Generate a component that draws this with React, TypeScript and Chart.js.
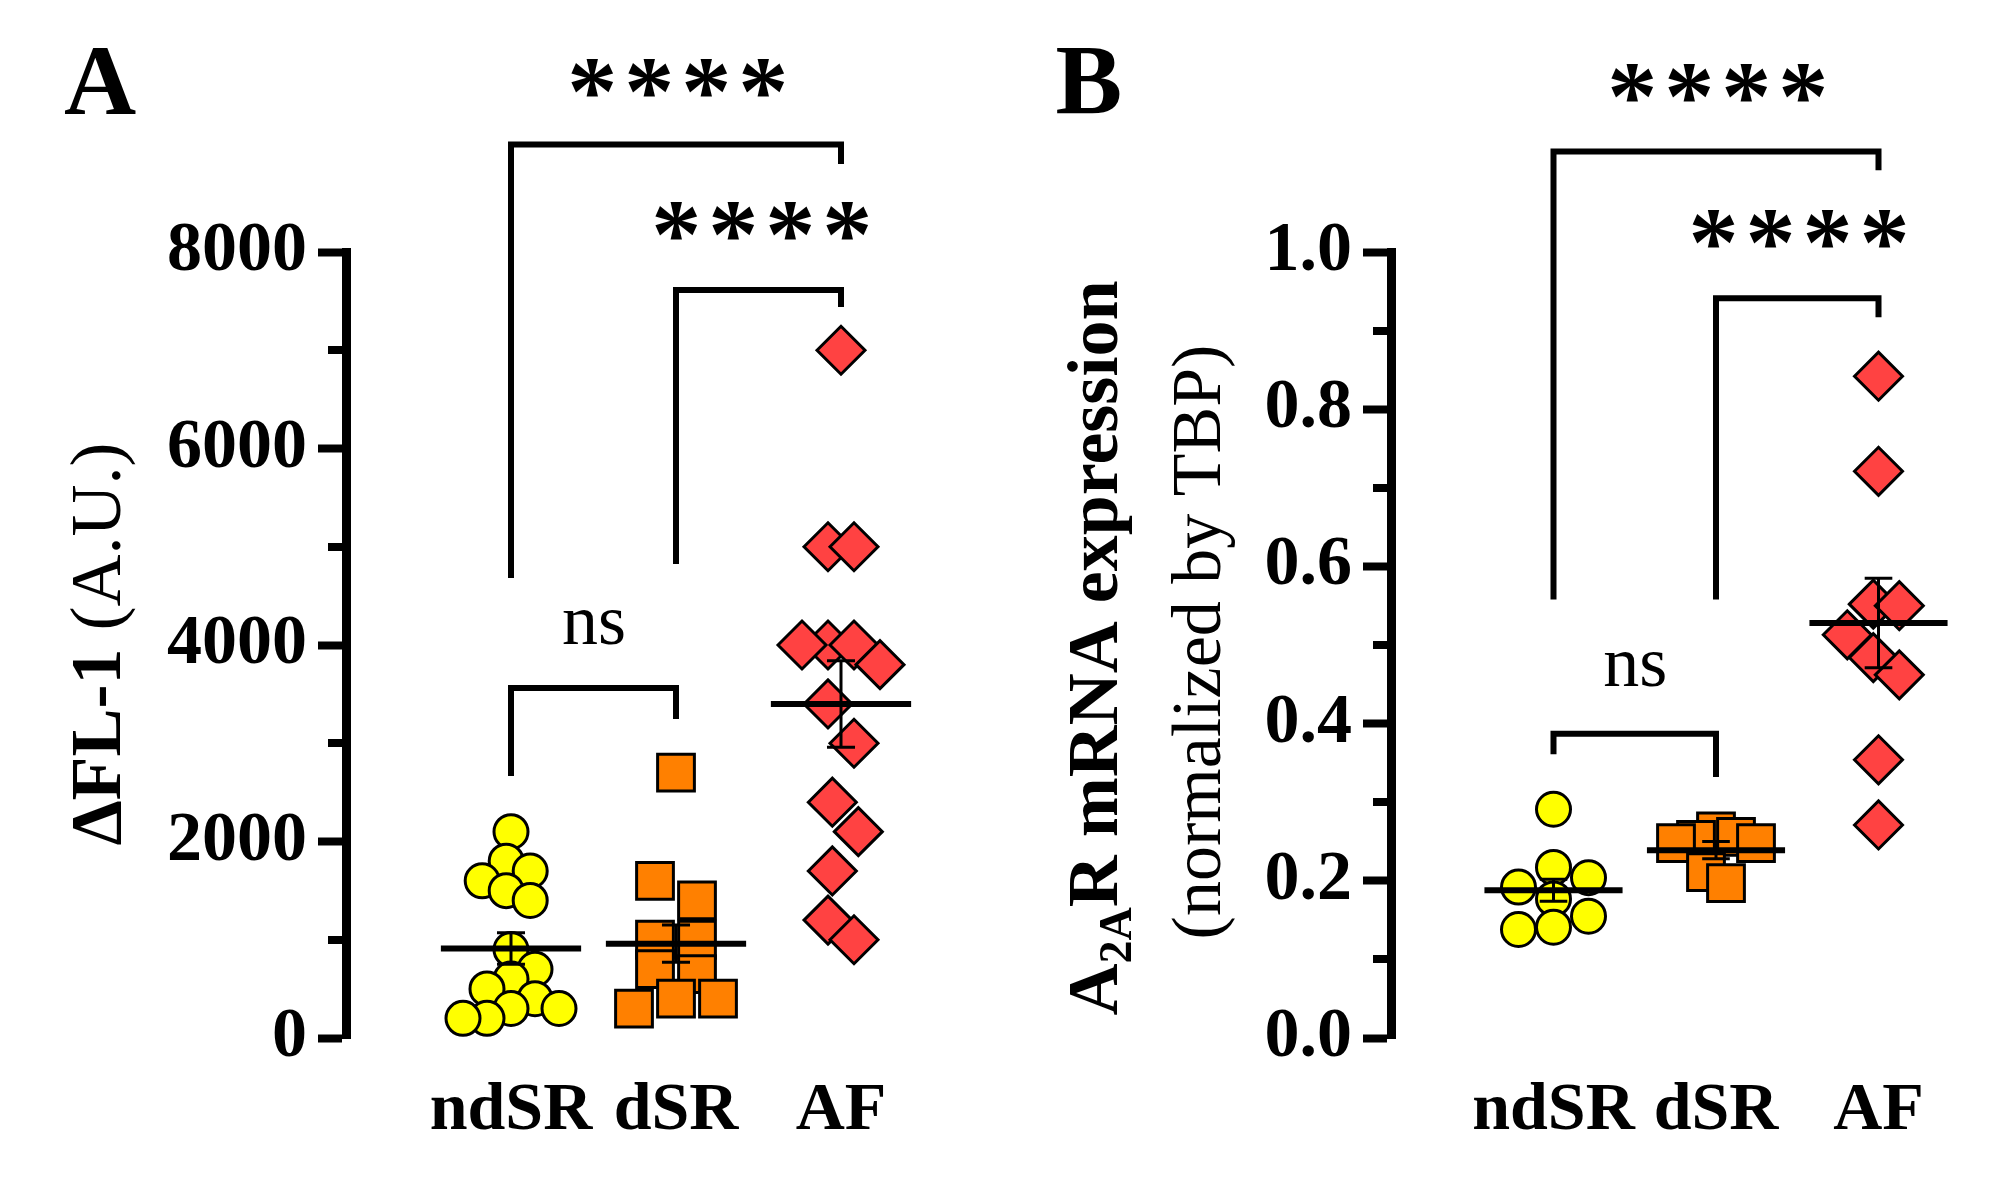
import React, { useEffect, useRef } from "react";
import { Chart, registerables } from "chart.js";
Chart.register(...registerables);

const W = 2005;
const H = 1195;
const SERIF = '"Liberation Serif", "Times New Roman", serif';

const categories = ["ndSR", "dSR", "AF"];

// Panel A: ΔFL-1 (A.U.)
const aNdSR = [2100, 1800, 1700, 1600, 1500, 1400, 900, 700, 600, 500, 400, 300, 300, 200, 200];
const aDSR = [2700, 1600, 1400, 1000, 1000, 700, 650, 400, 400, 300];
const aAF = [7000, 5000, 5000, 4000, 4000, 4000, 3800, 3400, 3000, 2400, 2100, 1700, 1200, 1000];
const aMeans = [910, 960, 3400];
const aSEM = [160, 190, 440];
const aMajorTicks = [0, 2000, 4000, 6000, 8000];
const aMinorTicks = [1000, 3000, 5000, 7000];

// Panel B: A2AR mRNA expression (normalized by TBP)
const bNdSR = [0.291, 0.217, 0.204, 0.192, 0.177, 0.155, 0.141, 0.138];
const bDSR = [0.263, 0.256, 0.252, 0.248, 0.248, 0.211, 0.197];
const bAF = [0.842, 0.721, 0.552, 0.55, 0.513, 0.484, 0.462, 0.354, 0.271];
const bMeans = [0.188, 0.239, 0.528];
const bSEM = [0.014, 0.011, 0.057];
const bMajorTicks = [0, 0.2, 0.4, 0.6, 0.8, 1.0];
const bMinorTicks = [0.1, 0.3, 0.5, 0.7, 0.9];

const COLORS = ["#FFFF00", "#FF8000", "#FF4242"];
const STYLES = ["circle", "rect", "rectRot"];
const RADII = [17, 26, 24];

type Seg = { t: string; font: string; dy?: number };

type PanelCfg = {
  left: number;
  yMax: number;
  groups: number[][];
  means: number[];
  sems: number[];
  majors: number[];
  minors: number[];
  fmt: (v: number) => string;
  swarmW: number[];
  swarmH: number[];
  brackets: { x1: number; x2: number; y: number; y1: number; y2: number }[];
  marks: { t: string; x: number; y: number }[];
  letter: { t: string; x: number; y: number };
  titles: { segs: Seg[]; cx: number; cy: number }[];
};

const panelA: PanelCfg = {
  left: 346,
  yMax: 8000,
  groups: [aNdSR, aDSR, aAF],
  means: aMeans,
  sems: aSEM,
  majors: aMajorTicks,
  minors: aMinorTicks,
  fmt: (v) => String(v),
  swarmW: [24, 42, 26],
  swarmH: [22, 22, 42],
  brackets: [
    { x1: 1, x2: 3, y: 9094, y1: 4682, y2: 8896 },
    { x1: 2, x2: 3, y: 7613, y1: 4824, y2: 7440 },
    { x1: 1, x2: 2, y: 3562, y1: 2667, y2: 3247 },
  ],
  marks: [
    { t: "****", x: 2.01, y: 9771 },
    { t: "****", x: 2.52, y: 8316 },
    { t: "ns", x: 1.5, y: 4183 },
  ],
  letter: { t: "A", x: 100, y: 81 },
  titles: [
    {
      segs: [
        { t: "ΔFL-1", font: `bold 72px ${SERIF}` },
        { t: " (A.U.)", font: `72px ${SERIF}` },
      ],
      cx: 96,
      cy: 644,
    },
  ],
};

const panelB: PanelCfg = {
  left: 1391,
  yMax: 1.0,
  groups: [bNdSR, bDSR, bAF],
  means: bMeans,
  sems: bSEM,
  majors: bMajorTicks,
  minors: bMinorTicks,
  fmt: (v) => v.toFixed(1),
  swarmW: [35, 20, 26],
  swarmH: [22, 22, 42],
  brackets: [
    { x1: 1, x2: 3, y: 1.128, y1: 0.558, y2: 1.104 },
    { x1: 2, x2: 3, y: 0.941, y1: 0.558, y2: 0.917 },
    { x1: 1, x2: 2, y: 0.387, y1: 0.361, y2: 0.332 },
  ],
  marks: [
    { t: "****", x: 2.01, y: 1.215 },
    { t: "****", x: 2.51, y: 1.029 },
    { t: "ns", x: 1.5, y: 0.469 },
  ],
  letter: { t: "B", x: 1088, y: 81 },
  titles: [
    {
      segs: [
        { t: "A", font: `bold 72px ${SERIF}` },
        { t: "2A", font: `bold 46px ${SERIF}`, dy: 14 },
        { t: "R mRNA expression", font: `bold 72px ${SERIF}` },
      ],
      cx: 1093,
      cy: 648,
    },
    {
      segs: [{ t: "(normalized by TBP)", font: `70px ${SERIF}` }],
      cx: 1196,
      cy: 642,
    },
  ],
};

function swarm(py: number[], w: number, h: number): number[] {
  const n = py.length;
  const order = py.map((_, i) => i).sort((a, b) => py[a] - py[b]);
  const xs: number[] = new Array(n).fill(0);
  const placed: number[] = [];
  for (const i of order) {
    const nb = placed.filter((j) => Math.abs(py[j] - py[i]) < h);
    let pos = 0;
    for (let k = 0; k < 80; k++) {
      const c = k === 0 ? 0 : (k % 2 === 1 ? 1 : -1) * Math.ceil(k / 2) * (w / 2);
      if (nb.every((j) => Math.abs(xs[j] - c) >= w - 0.01)) {
        pos = c;
        break;
      }
    }
    xs[i] = pos;
    placed.push(i);
  }
  const parent = py.map((_, i) => i);
  const find = (a: number): number => (parent[a] === a ? a : (parent[a] = find(parent[a])));
  for (let i = 0; i < n; i++)
    for (let j = i + 1; j < n; j++)
      if (Math.abs(py[i] - py[j]) < h) parent[find(i)] = find(j);
  const sum: Record<number, number> = {};
  const cnt: Record<number, number> = {};
  for (let i = 0; i < n; i++) {
    const r = find(i);
    sum[r] = (sum[r] || 0) + xs[i];
    cnt[r] = (cnt[r] || 0) + 1;
  }
  return xs.map((x, i) => x - sum[find(i)] / cnt[find(i)]);
}

function inkCentered(ctx: CanvasRenderingContext2D, text: string, cx: number, cy: number) {
  ctx.textAlign = "left";
  ctx.textBaseline = "alphabetic";
  const m = ctx.measureText(text);
  const x = cx - (m.actualBoundingBoxRight - m.actualBoundingBoxLeft) / 2;
  const y = cy - (m.actualBoundingBoxDescent - m.actualBoundingBoxAscent) / 2;
  ctx.fillText(text, x, y);
}

function makePlugin(cfg: PanelCfg) {
  return {
    id: "annot" + cfg.letter.t,
    afterDatasetsDraw(chart: any) {
      const ctx: CanvasRenderingContext2D = chart.ctx;
      const xs = chart.scales.x;
      const ys = chart.scales.y;
      const X = (v: number) => xs.getPixelForValue(v);
      const Y = (v: number) => ys.getPixelForValue(v);
      const pxPerX = X(1) - X(0);
      ctx.save();
      ctx.strokeStyle = "#000";
      ctx.fillStyle = "#000";
      ctx.lineCap = "butt";
      ctx.lineJoin = "miter";

      // error bars (mean ± SEM)
      cfg.means.forEach((m, i) => {
        const cx = X(i + 1);
        const s = cfg.sems[i];
        ctx.lineWidth = 3;
        ctx.beginPath();
        ctx.moveTo(cx, Y(m - s));
        ctx.lineTo(cx, Y(m + s));
        const cap = 0.085 * pxPerX;
        ctx.moveTo(cx - cap, Y(m + s));
        ctx.lineTo(cx + cap, Y(m + s));
        ctx.moveTo(cx - cap, Y(m - s));
        ctx.lineTo(cx + cap, Y(m - s));
        ctx.stroke();
      });
      // mean lines
      cfg.means.forEach((m, i) => {
        ctx.lineWidth = 6;
        ctx.beginPath();
        ctx.moveTo(X(i + 1 - 0.425), Y(m));
        ctx.lineTo(X(i + 1 + 0.425), Y(m));
        ctx.stroke();
      });

      // minor ticks
      ctx.lineWidth = 8;
      cfg.minors.forEach((v) => {
        const y = Math.round(Y(v));
        ctx.beginPath();
        ctx.moveTo(xs.left - 18, y);
        ctx.lineTo(xs.left - 3, y);
        ctx.stroke();
      });

      // brackets
      ctx.lineWidth = 6;
      cfg.brackets.forEach((b) => {
        ctx.beginPath();
        ctx.moveTo(X(b.x1), Y(b.y1));
        ctx.lineTo(X(b.x1), Y(b.y));
        ctx.lineTo(X(b.x2), Y(b.y));
        ctx.lineTo(X(b.x2), Y(b.y2));
        ctx.stroke();
      });

      // significance marks
      cfg.marks.forEach((mk) => {
        const cx = X(mk.x);
        const cy = Y(mk.y);
        if (mk.t === "ns") {
          ctx.font = `72px ${SERIF}`;
          inkCentered(ctx, "ns", cx, cy);
        } else {
          ctx.font = `bold 100px ${SERIF}`;
          const n = mk.t.length;
          const pitch = 57;
          for (let k = 0; k < n; k++) {
            inkCentered(ctx, "*", cx + (k - (n - 1) / 2) * pitch, cy);
          }
        }
      });

      // panel letter
      ctx.font = `bold 100px ${SERIF}`;
      inkCentered(ctx, cfg.letter.t, cfg.letter.x, cfg.letter.y);

      // axis titles (rotated, mixed styles)
      cfg.titles.forEach((tl) => {
        ctx.save();
        ctx.translate(tl.cx, tl.cy);
        ctx.rotate(-Math.PI / 2);
        ctx.textAlign = "left";
        ctx.textBaseline = "alphabetic";
        let total = 0;
        const widths = tl.segs.map((s) => {
          ctx.font = s.font;
          const w = ctx.measureText(s.t).width;
          total += w;
          return w;
        });
        let x = -total / 2;
        tl.segs.forEach((s, i) => {
          ctx.font = s.font;
          ctx.fillText(s.t, x, 24 + (s.dy || 0));
          x += widths[i];
        });
        ctx.restore();
      });

      ctx.restore();
    },
  };
}

function Panel({ cfg }: { cfg: PanelCfg }) {
  const ref = useRef<HTMLCanvasElement>(null);
  useEffect(() => {
    const canvas = ref.current;
    if (!canvas) return;
    const plotW = 3.6 * 165;
    const chart = new Chart(canvas, {
      type: "scatter",
      data: {
        datasets: cfg.groups.map((vals, gi) => ({
          label: categories[gi],
          data: vals.map((v) => ({ x: gi + 1, y: v })),
          pointStyle: STYLES[gi] as any,
          pointRadius: RADII[gi],
          pointHoverRadius: RADII[gi],
          backgroundColor: COLORS[gi],
          borderColor: "#000",
          pointBorderWidth: 3,
          borderWidth: 3,
          clip: false as any,
        })),
      },
      options: {
        animation: false,
        responsive: false,
        maintainAspectRatio: false,
        devicePixelRatio: 1,
        events: [],
        layout: {
          padding: {
            left: cfg.left - 200,
            right: W - (cfg.left + plotW),
            top: 252,
            bottom: 27,
          },
        },
        plugins: {
          legend: { display: false },
          tooltip: { enabled: false },
        },
        scales: {
          x: {
            type: "linear",
            min: 0,
            max: 3.6,
            afterBuildTicks: (s: any) => {
              s.ticks = [1, 2, 3].map((v) => ({ value: v }));
            },
            afterFit: (s: any) => {
              s.height = 130;
            },
            ticks: {
              callback: (v: any) => categories[Math.round(Number(v)) - 1] || "",
              font: { family: SERIF, size: 68, weight: "bold" },
              color: "#000",
              padding: 33,
              autoSkip: false,
              maxRotation: 0,
              minRotation: 0,
            },
            grid: { display: false, drawTicks: false },
            border: { display: false },
          },
          y: {
            type: "linear",
            min: 0,
            max: cfg.yMax,
            afterBuildTicks: (s: any) => {
              s.ticks = cfg.majors.map((v) => ({ value: v }));
            },
            afterFit: (s: any) => {
              s.width = 200;
            },
            ticks: {
              callback: (v: any) => cfg.fmt(Number(v)),
              font: { family: SERIF, size: 70, weight: "bold" },
              color: "#000",
              padding: 11,
            },
            grid: {
              display: true,
              drawOnChartArea: false,
              drawTicks: true,
              tickLength: 28,
              tickWidth: 8,
              tickColor: "#000",
              color: "#000",
            },
            border: { display: true, width: 9, color: "#000" },
          },
        },
      },
      plugins: [makePlugin(cfg)],
    } as any);

    const xs: any = chart.scales.x;
    const ys: any = chart.scales.y;
    const pxPerX = xs.getPixelForValue(1) - xs.getPixelForValue(0);
    cfg.groups.forEach((vals, gi) => {
      const py = vals.map((v) => ys.getPixelForValue(v));
      const offs = swarm(py, cfg.swarmW[gi], cfg.swarmH[gi]);
      (chart.data.datasets[gi] as any).data = vals.map((v, i) => ({
        x: gi + 1 + offs[i] / pxPerX,
        y: v,
      }));
    });
    chart.update("none");

    return () => chart.destroy();
  }, [cfg]);
  return (
    <canvas
      ref={ref}
      width={W}
      height={H}
      style={{ position: "absolute", left: 0, top: 0, width: W, height: H }}
    />
  );
}

export default function App() {
  return (
    <div
      style={{
        position: "absolute",
        left: 0,
        top: 0,
        width: W,
        height: H,
        background: "#fff",
        overflow: "hidden",
      }}
    >
      <Panel cfg={panelA} />
      <Panel cfg={panelB} />
    </div>
  );
}
